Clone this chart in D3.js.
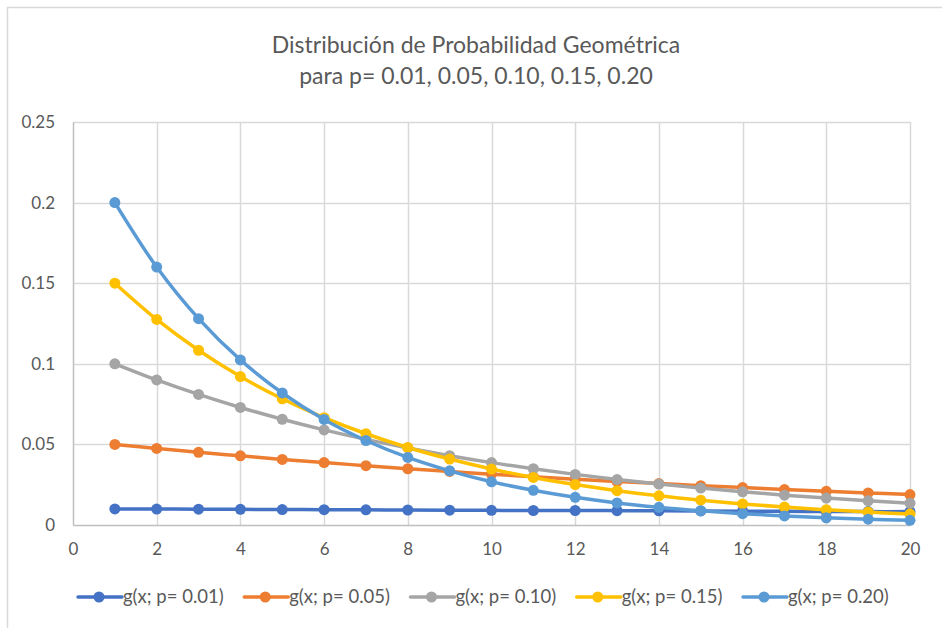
<!DOCTYPE html>
<html><head><meta charset="utf-8">
<script src="https://cdn.jsdelivr.net/npm/d3@7"></script>
<style>body{margin:0;background:#fff}svg text{font-family:Lato,"Open Sans",sans-serif;fill:#595959}</style>
</head><body><svg id="c" width="942" height="628"></svg>
<script>
const xs = [1,2,3,4,5,6,7,8,9,10,11,12,13,14,15,16,17,18,19,20];
const seriesNames = ["g(x; p= 0.01)","g(x; p= 0.05)","g(x; p= 0.10)","g(x; p= 0.15)","g(x; p= 0.20)"];
const p01 = [0.0100,0.0099,0.0098,0.0097,0.0096,0.0095,0.0094,0.0093,0.0092,0.0091,0.0090,0.0090,0.0089,0.0088,0.0087,0.0086,0.0085,0.0084,0.0083,0.0083];
const p05 = [0.0500,0.0475,0.0451,0.0429,0.0407,0.0387,0.0368,0.0349,0.0332,0.0315,0.0299,0.0284,0.0270,0.0257,0.0244,0.0232,0.0220,0.0209,0.0199,0.0189];
const p10 = [0.1000,0.0900,0.0810,0.0729,0.0656,0.0590,0.0531,0.0478,0.0430,0.0387,0.0349,0.0314,0.0282,0.0254,0.0229,0.0206,0.0185,0.0167,0.0150,0.0135];
const p15 = [0.1500,0.1275,0.1084,0.0921,0.0783,0.0666,0.0566,0.0481,0.0409,0.0347,0.0295,0.0251,0.0213,0.0181,0.0154,0.0131,0.0111,0.0095,0.0080,0.0068];
const p20 = [0.2000,0.1600,0.1280,0.1024,0.0819,0.0655,0.0524,0.0419,0.0336,0.0268,0.0215,0.0172,0.0137,0.0110,0.0088,0.0070,0.0056,0.0045,0.0036,0.0029];
const xTicks = [0,2,4,6,8,10,12,14,16,18,20];
const yTicks = [0,0.05,0.1,0.15,0.2,0.25];
const yTickLabels = ["0","0.05","0.1","0.15","0.2","0.25"];
const titleLines = ["Distribución de Probabilidad Geométrica","para p= 0.01, 0.05, 0.10, 0.15, 0.20"];
const colors = ["#4472C4","#ED7D31","#A5A5A5","#FFC000","#5B9BD5"];
const allSeries = [p01,p05,p10,p15,p20];

const svg = d3.select("#c");
svg.append("rect").attr("x",7.5).attr("y",7.5).attr("width",1000).attr("height",1000)
  .attr("fill","none").attr("stroke","#d9d9d9").attr("stroke-width",1.5);

const L=73, R=910, T=122, B=525;
const x = d3.scaleLinear().domain([0,20]).range([L,R]);
const y = d3.scaleLinear().domain([0,0.25]).range([B,T]);

// title
svg.append("g").selectAll("text").data(titleLines).join("text")
  .attr("x",476).attr("y",(d,i)=>53+i*31).attr("text-anchor","middle")
  .style("font-size","23px").text(d=>d);

// gridlines
svg.append("g").selectAll("line").data(yTicks.slice(1)).join("line")
  .attr("x1",L).attr("x2",R).attr("y1",d=>Math.round(y(d))+0.5).attr("y2",d=>Math.round(y(d))+0.5)
  .attr("stroke","#d9d9d9").attr("stroke-width",1.5);
svg.append("g").selectAll("line").data(xTicks.slice(1)).join("line")
  .attr("x1",d=>Math.round(x(d))+0.5).attr("x2",d=>Math.round(x(d))+0.5).attr("y1",T).attr("y2",B)
  .attr("stroke","#d9d9d9").attr("stroke-width",1.5);

// axes
const yAxis = d3.axisLeft(y).tickValues(yTicks).tickFormat((d,i)=>yTickLabels[i]).tickSize(0).tickPadding(18);
const ga = svg.append("g").attr("transform",`translate(${L},0)`).call(yAxis);
ga.select(".domain").attr("stroke","#bfbfbf").attr("stroke-width",1.5);
ga.selectAll("text").style("font-size","17px").style("font-family","Lato").attr("fill","#595959");
const xAxis = d3.axisBottom(x).tickValues(xTicks).tickSize(0).tickPadding(18);
const gx = svg.append("g").attr("transform",`translate(0,${B})`).call(xAxis);
gx.select(".domain").attr("stroke","#bfbfbf").attr("stroke-width",1.5);
gx.selectAll("text").style("font-size","17px").style("font-family","Lato").attr("fill","#595959");

// series
const line = d3.line().x((d,i)=>x(xs[i])).y(d=>y(d)).curve(d3.curveCatmullRom.alpha(0.5));
allSeries.forEach((s,k)=>{
  const g = svg.append("g");
  g.append("path").attr("d",line(s)).attr("fill","none").attr("stroke",colors[k]).attr("stroke-width",3.5).attr("stroke-linecap","round");
  g.selectAll("circle").data(s).join("circle").attr("cx",(d,i)=>x(xs[i])).attr("cy",d=>y(d)).attr("r",5.5).attr("fill",colors[k]);
});

// legend
const lg = svg.append("g").attr("transform","translate(0,597)");
const lx = d3.scalePoint().domain(seriesNames).range([78,743]);
seriesNames.forEach((n,k)=>{
  const g = lg.append("g").attr("transform",`translate(${lx(n)},0)`);
  g.append("line").attr("x1",0).attr("x2",44).attr("stroke",colors[k]).attr("stroke-width",3.5).attr("stroke-linecap","round");
  g.append("circle").attr("cx",21).attr("r",5.5).attr("fill",colors[k]);
  g.append("text").attr("x",45).attr("dy","0.35em").style("font-size","18.5px").text(n);
});
</script></body></html>
